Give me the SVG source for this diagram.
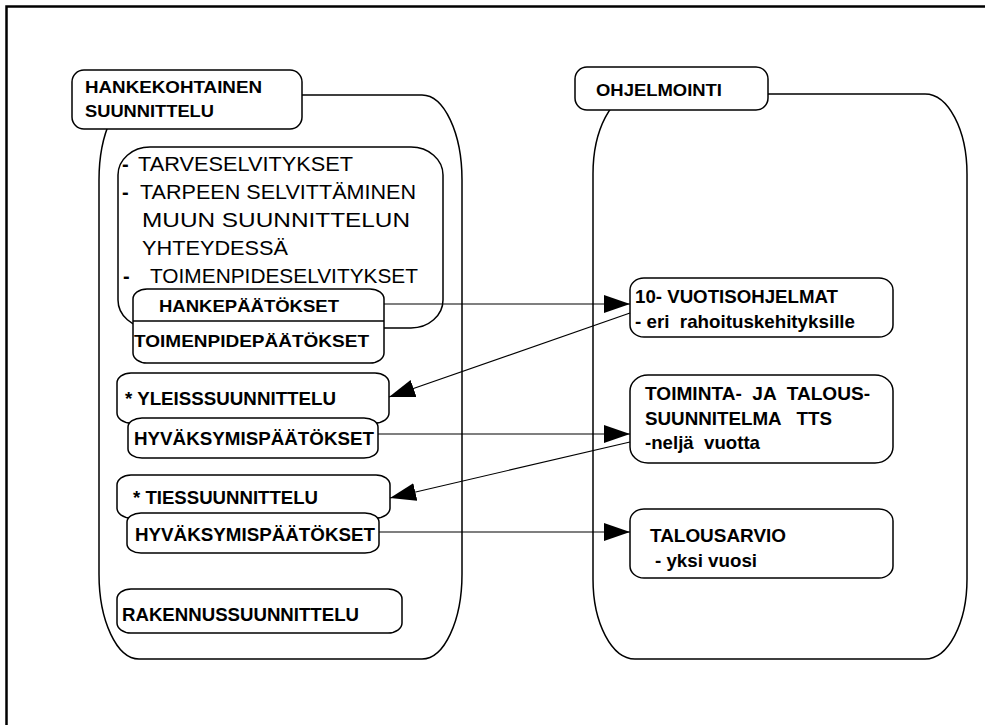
<svg xmlns="http://www.w3.org/2000/svg" width="985" height="725" viewBox="0 0 985 725">
<defs>
<style>
.frame{fill:none;stroke:#000;stroke-width:2.5}
.cont{fill:none;stroke:#000;stroke-width:1.5}
.box{fill:#fff;stroke:#000;stroke-width:1.5}
.con{fill:none;stroke:#000;stroke-width:1.2}
text{font-family:"Liberation Sans",Arial,sans-serif;fill:#000;white-space:pre}
.b{font-weight:bold;font-size:18.5px}
.bs{font-weight:bold;font-size:16.5px}
.r{font-size:20px}
</style>
<marker id="ah" markerUnits="userSpaceOnUse" markerWidth="27" markerHeight="19" refX="26" refY="9" orient="auto" viewBox="0 0 27 19">
<path d="M0,0 L26,9 L0,18 z" fill="#000"/>
</marker>
</defs>
<rect width="985" height="725" fill="#fff"/>
<path class="frame" d="M6.5,725 L6.5,6.5 L985,6.5"/>

<g id="left-container">
<rect class="cont" x="99" y="95" width="363" height="564" rx="40" ry="85"/>
</g>
<g id="right-container">
<rect class="cont" x="593" y="94" width="374" height="565" rx="42" ry="80"/>
</g>

<g id="hankekohtainen">
<rect class="box" x="72" y="70" width="230" height="59" rx="12" ry="12"/>
<text class="bs" x="85" y="93" textLength="177" lengthAdjust="spacingAndGlyphs">HANKEKOHTAINEN</text>
<text class="bs" x="85" y="117" textLength="129" lengthAdjust="spacingAndGlyphs">SUUNNITTELU</text>
</g>

<g id="ohjelmointi">
<rect class="box" x="575" y="67" width="193" height="43" rx="12" ry="12"/>
<text class="bs" x="596" y="96" textLength="126" lengthAdjust="spacingAndGlyphs">OHJELMOINTI</text>
</g>

<g id="selvitykset">
<rect class="box" x="118" y="147" width="325" height="181" rx="32" ry="28"/>
<text class="b" x="122" y="171" style="font-size:20px">-</text>
<text class="r" x="138" y="171" textLength="215" lengthAdjust="spacingAndGlyphs">TARVESELVITYKSET</text>
<text class="b" x="122" y="199" style="font-size:20px">-</text>
<text class="r" x="140" y="199" textLength="276" lengthAdjust="spacingAndGlyphs">TARPEEN SELVITTÄMINEN</text>
<text class="r" x="142" y="227" textLength="268" lengthAdjust="spacingAndGlyphs">MUUN SUUNNITTELUN</text>
<text class="r" x="142" y="255" textLength="146" lengthAdjust="spacingAndGlyphs">YHTEYDESSÄ</text>
<text class="b" x="123" y="283" style="font-size:20px">-</text>
<text class="r" x="150" y="283" textLength="268" lengthAdjust="spacingAndGlyphs">TOIMENPIDESELVITYKSET</text>
</g>

<g id="hankepaatokset">
<rect class="box" x="133" y="289" width="251" height="74" rx="14" ry="10"/>
<line class="cont" x1="133" y1="321" x2="384" y2="321"/>
<text class="bs" x="159" y="312" textLength="180" lengthAdjust="spacingAndGlyphs">HANKEPÄÄTÖKSET</text>
<text class="bs" x="134" y="347" textLength="235" lengthAdjust="spacingAndGlyphs">TOIMENPIDEPÄÄTÖKSET</text>
</g>

<g id="yleissuunnittelu">
<rect class="box" x="117" y="373" width="272" height="50" rx="14" ry="10"/>
<text class="b" x="125" y="405" textLength="211" lengthAdjust="spacingAndGlyphs">* YLEISSSUUNNITTELU</text>
</g>
<g id="hyvaksymis1">
<rect class="box" x="128" y="418" width="250" height="40" rx="14" ry="9"/>
<text class="b" x="134" y="445" textLength="240" lengthAdjust="spacingAndGlyphs">HYVÄKSYMISPÄÄTÖKSET</text>
</g>

<g id="tiessuunnittelu">
<rect class="box" x="117" y="475" width="273" height="43" rx="14" ry="10"/>
<text class="b" x="133" y="504" textLength="185" lengthAdjust="spacingAndGlyphs">* TIESSUUNNITTELU</text>
</g>
<g id="hyvaksymis2">
<rect class="box" x="127" y="513" width="252" height="40" rx="14" ry="9"/>
<text class="b" x="135" y="541" textLength="240" lengthAdjust="spacingAndGlyphs">HYVÄKSYMISPÄÄTÖKSET</text>
</g>

<g id="rakennussuunnittelu">
<rect class="box" x="117" y="589" width="285" height="44" rx="14" ry="10"/>
<text class="b" x="122" y="621" textLength="237" lengthAdjust="spacingAndGlyphs">RAKENNUSSUUNNITTELU</text>
</g>

<g id="vuotisohjelmat">
<rect class="box" x="630" y="278" width="263" height="59" rx="14" ry="12"/>
<text class="b" x="635" y="303" textLength="203" lengthAdjust="spacingAndGlyphs">10- VUOTISOHJELMAT</text>
<text class="b" x="635" y="328" textLength="220" lengthAdjust="spacingAndGlyphs">- eri  rahoituskehityksille</text>
</g>

<g id="tts">
<rect class="box" x="630" y="375" width="263" height="88" rx="18" ry="16"/>
<text class="b" x="645" y="400" textLength="225" lengthAdjust="spacingAndGlyphs">TOIMINTA-  JA  TALOUS-</text>
<text class="b" x="645" y="425" textLength="187" lengthAdjust="spacingAndGlyphs">SUUNNITELMA   TTS</text>
<text class="b" x="645" y="449" textLength="115" lengthAdjust="spacingAndGlyphs">-neljä  vuotta</text>
</g>

<g id="talousarvio">
<rect class="box" x="630" y="509" width="263" height="69" rx="14" ry="12"/>
<text class="b" x="650" y="542" textLength="136" lengthAdjust="spacingAndGlyphs">TALOUSARVIO</text>
<text class="b" x="655" y="567" textLength="102" lengthAdjust="spacingAndGlyphs">- yksi vuosi</text>
</g>

<g id="connectors">
<path class="con" d="M384,304 L630,304" marker-end="url(#ah)"/>
<path class="con" d="M630,313 L389,397" marker-end="url(#ah)"/>
<path class="con" d="M378,434 L630,434" marker-end="url(#ah)"/>
<path class="con" d="M630,442 L390,498" marker-end="url(#ah)"/>
<path class="con" d="M379,532 L630,532" marker-end="url(#ah)"/>
</g>
</svg>
